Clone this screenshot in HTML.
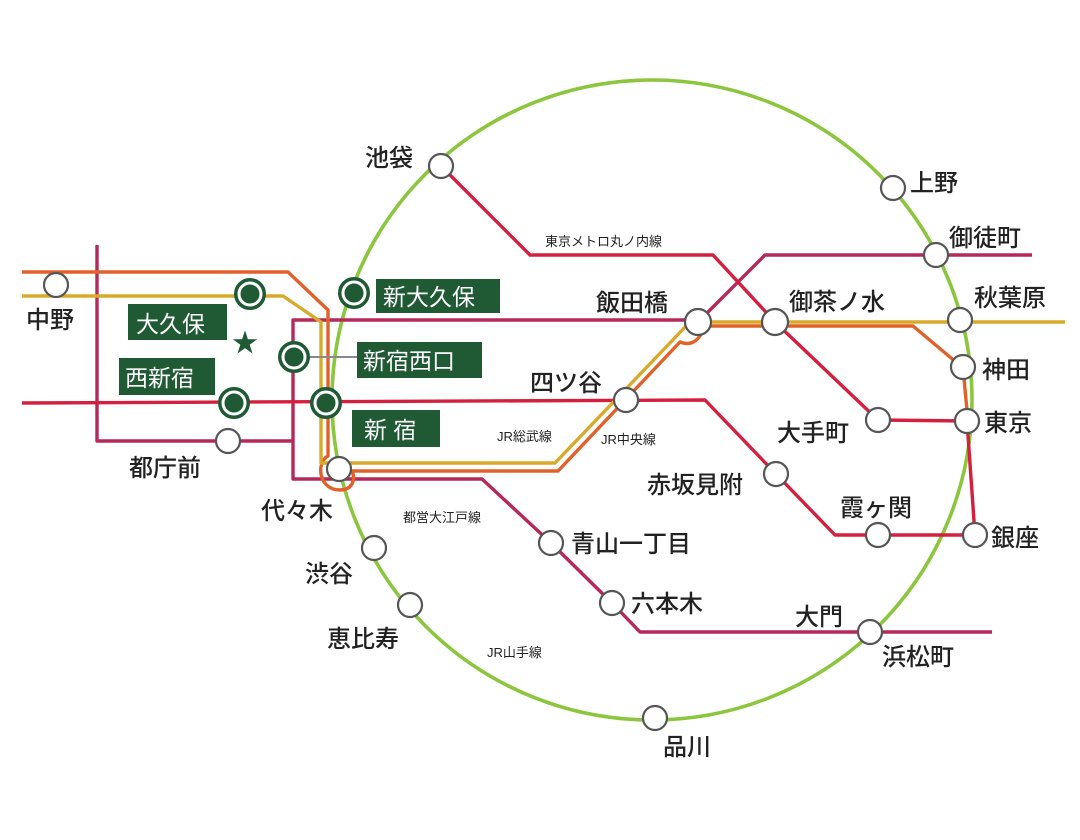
<!DOCTYPE html>
<html><head><meta charset="utf-8"><style>
html,body{margin:0;padding:0;background:#fff;}
svg{display:block;}
text{font-family:"Liberation Sans","Noto Sans CJK JP",sans-serif;fill:#222;}
.b{font-size:24px;font-weight:500;}
.s{font-size:13px;}
.w{fill:#fff;font-size:23px;}
</style></head><body>
<svg width="1080" height="840" viewBox="0 0 1080 840" xmlns="http://www.w3.org/2000/svg">
<g fill="none" stroke-width="3.4" stroke-linejoin="round">
<circle cx="652" cy="400" r="320" stroke="#8cc63f" stroke-width="3.6"/>
<polyline stroke="#b5285a" points="97,245 97,441 293,441"/>
<polyline stroke="#b5285a" points="698,320 293,320 293,479 482,479 551,543 612,603 640,632 992,632"/>
<polyline stroke="#b5285a" points="698,322 765,255 1032,255"/>
<polyline stroke="#d3203f" points="441,166 530,255 713,255 775,322 878,420 967,421 975,535 835,535 776,474 705,400 22,403"/>
<path stroke="#e0622a" d="M22,272 H288 L328,310 V456 C316,462 318,490 340,490 C352,490 356,480 352,471 H558 L680,342 C690,346 700,342 704,326 H913 L963,368 L968,421"/>
<path stroke="#d8aa2c" d="M22,296 H283 L321,322 V463 H555 L690,322 H1065"/>
</g>
<line x1="306" y1="357" x2="357" y2="357" stroke="#888" stroke-width="2"/>
<g fill="#fff" stroke="#555" stroke-width="2.2">
<circle cx="56" cy="285" r="12"/>
<circle cx="441" cy="166" r="12"/>
<circle cx="893" cy="188" r="12"/>
<circle cx="936" cy="255" r="12"/>
<circle cx="960" cy="320" r="12"/>
<circle cx="963" cy="367" r="12"/>
<circle cx="967" cy="421" r="12"/>
<circle cx="975" cy="535" r="12"/>
<circle cx="870" cy="632" r="12"/>
<circle cx="655" cy="718" r="12"/>
<circle cx="410" cy="605" r="12"/>
<circle cx="374" cy="548" r="12"/>
<circle cx="339" cy="469" r="12"/>
<circle cx="228" cy="441" r="12"/>
<circle cx="698" cy="322" r="13"/>
<circle cx="775" cy="322" r="13"/>
<circle cx="626" cy="400" r="12"/>
<circle cx="878" cy="420" r="12"/>
<circle cx="776" cy="474" r="12"/>
<circle cx="878" cy="535" r="12"/>
<circle cx="551" cy="543" r="12"/>
<circle cx="612" cy="603" r="12"/>
</g>
<g fill="#1f5a35" stroke="#fff" stroke-width="3">
<circle cx="250" cy="294" r="15" stroke="#1f5a35" stroke-width="2"/><circle cx="250" cy="294" r="11"/>
<circle cx="354" cy="293" r="15" stroke="#1f5a35" stroke-width="2"/><circle cx="354" cy="293" r="11"/>
<circle cx="234" cy="403" r="15" stroke="#1f5a35" stroke-width="2"/><circle cx="234" cy="403" r="11"/>
<circle cx="294" cy="357" r="15" stroke="#1f5a35" stroke-width="2"/><circle cx="294" cy="357" r="11"/>
<circle cx="326" cy="403" r="15" stroke="#1f5a35" stroke-width="2"/><circle cx="326" cy="403" r="11"/>
</g>
<text x="245" y="352" font-size="26" text-anchor="middle" style="fill:#1f5a35">★</text>
<g fill="#1f5a35">
<rect x="128" y="304" width="99" height="36"/>
<rect x="376" y="279" width="124" height="34"/>
<rect x="357" y="342" width="125" height="36"/>
<rect x="119" y="358" width="96" height="37"/>
<rect x="352" y="410" width="88" height="37"/>
</g>
<text class="w" x="136" y="332">大久保</text>
<text class="w" x="383" y="305">新大久保</text>
<text class="w" x="363" y="369">新宿西口</text>
<text class="w" x="125" y="386">西新宿</text>
<text class="w" x="364" y="438">新 宿</text>
<g>
<text class="b" x="26" y="328">中野</text>
<text class="b" x="365" y="166">池袋</text>
<text class="b" x="910" y="191">上野</text>
<text class="b" x="949" y="246">御徒町</text>
<text class="b" x="974" y="306">秋葉原</text>
<text class="b" x="982" y="378">神田</text>
<text class="b" x="984" y="431">東京</text>
<text class="b" x="991" y="546">銀座</text>
<text class="b" x="795" y="625">大門</text>
<text class="b" x="882" y="665">浜松町</text>
<text class="b" x="663" y="755">品川</text>
<text class="b" x="327" y="647">恵比寿</text>
<text class="b" x="305" y="582">渋谷</text>
<text class="b" x="261" y="519">代々木</text>
<text class="b" x="129" y="476">都庁前</text>
<text class="b" x="596" y="311">飯田橋</text>
<text class="b" x="789" y="310">御茶ノ水</text>
<text class="b" x="530" y="391">四ツ谷</text>
<text class="b" x="777" y="441">大手町</text>
<text class="b" x="647" y="493">赤坂見附</text>
<text class="b" x="840" y="516">霞ヶ関</text>
<text class="b" x="571" y="552">青山一丁目</text>
<text class="b" x="631" y="612">六本木</text>
</g>
<text class="s" x="545" y="246">東京メトロ丸ノ内線</text>
<text class="s" x="497" y="441">JR総武線</text>
<text class="s" x="601" y="444">JR中央線</text>
<text class="s" x="403" y="522">都営大江戸線</text>
<text class="s" x="487" y="657">JR山手線</text>
</svg>
</body></html>
